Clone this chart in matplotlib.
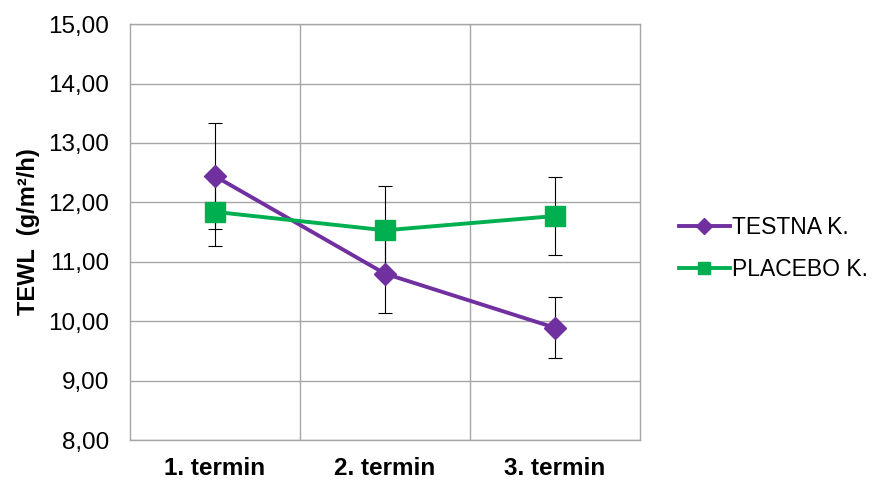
import matplotlib.pyplot as plt
import numpy as np

plt.rcParams['font.family'] = ['Liberation Sans', 'DejaVu Sans']

terms = ['1. termin', '2. termin', '3. termin']
testna = [12.44, 10.80, 9.89]
testna_err = [0.89, 0.66, 0.51]
placebo = [11.84, 11.53, 11.77]
placebo_err = [0.57, 0.75, 0.65]

purple = '#7030A0'
green = '#00B050'

fig = plt.figure(figsize=(8.85, 4.82), dpi=100)
ax = fig.add_axes([0.147, 0.087, 0.576, 0.863])

x = np.arange(1, len(terms) + 1)

ax.errorbar(x, testna, yerr=testna_err, fmt='none', ecolor='black',
            elinewidth=0.8, capsize=5.2, capthick=0.8, zorder=2)
ax.errorbar(x, placebo, yerr=placebo_err, fmt='none', ecolor='black',
            elinewidth=0.8, capsize=5.2, capthick=0.8, zorder=2)
ax.plot(x, testna, color=purple, lw=2.8, marker='D', ms=11,
        label='TESTNA K.', zorder=3)
ax.plot(x, placebo, color=green, lw=2.8, marker='s', ms=14,
        label='PLACEBO K.', zorder=3)

yt = np.arange(8, 16, 1)
ax.set_xlim(0.5, 3.5)
ax.set_ylim(8, 15)
ax.set_yticks(yt)
ax.set_yticklabels([('%.2f' % v).replace('.', ',') for v in yt])
ax.set_xticks(x)
ax.set_xticklabels(terms, fontweight='bold')
ax.set_xticks([1.5, 2.5], minor=True)
ax.tick_params(axis='both', which='both', length=0, labelsize=17.5)
ax.tick_params(axis='y', pad=15)
ax.tick_params(axis='x', pad=12)
ax.grid(True, axis='y', which='major', color='#A6A6A6', lw=1)
ax.grid(True, axis='x', which='minor', color='#A6A6A6', lw=1)
for s in ax.spines.values():
    s.set_color('#A6A6A6')
    s.set_linewidth(1)

ax.set_ylabel('TEWL  (g/m²/h)', fontsize=17, fontweight='bold', labelpad=6)

leg = ax.legend(loc='center left', bbox_to_anchor=(1.076, 0.46), frameon=False,
                fontsize=16.5, handlelength=2.25, labelspacing=0.85,
                handletextpad=0.1, borderpad=0, borderaxespad=0)
for h in leg.legend_handles:
    h.set_markersize(8)

fig.savefig('out.png', dpi=100)
